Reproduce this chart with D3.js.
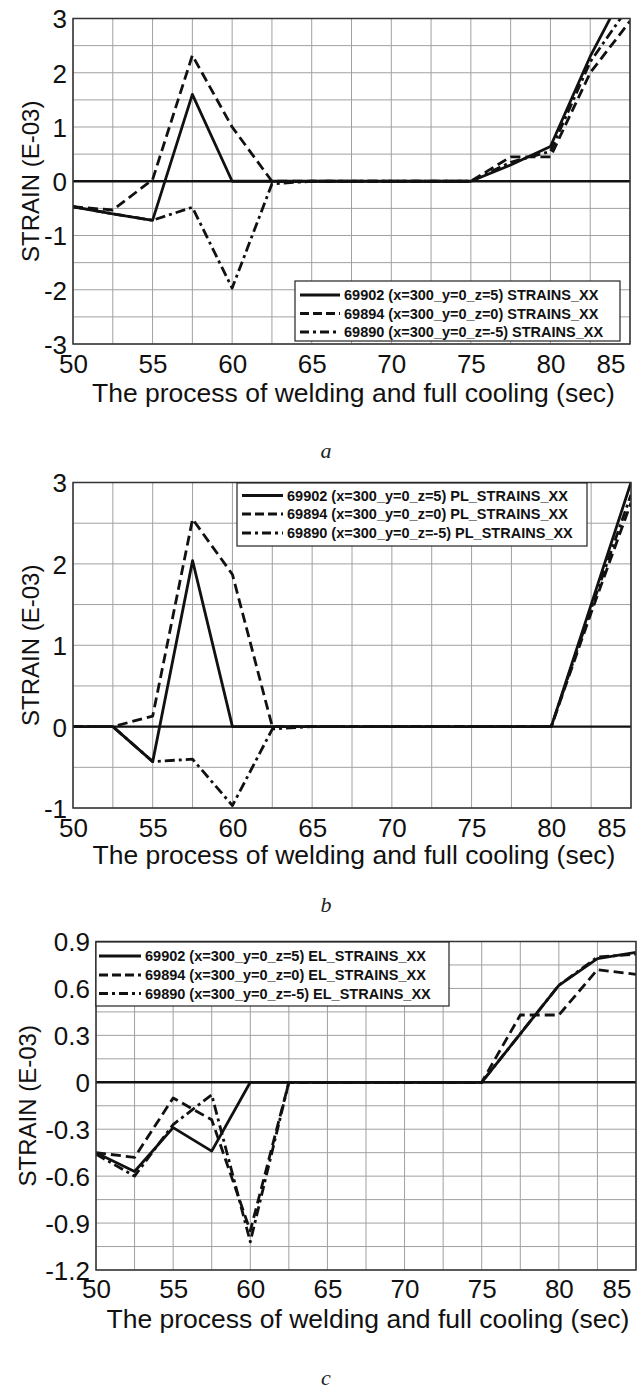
<!DOCTYPE html>
<html>
<head>
<meta charset="utf-8">
<script src="https://cdn.jsdelivr.net/npm/d3@7"></script>
<style>
  html, body { margin: 0; padding: 0; background: #fff; }
  svg { display: block; }
</style>
</head>
<body>
<script>
// ---------------- DATA ----------------
const times = [50, 52.5, 55, 57.5, 60, 62.5, 65, 67.5, 70, 72.5, 75, 77.5, 80, 82.5, 85];
const xTicks = [50, 55, 60, 65, 70, 75, 80, 85];

// Panel a: total strains
const a_69902 = [-0.47, -0.60, -0.72, 1.60, 0, 0, 0, 0, 0, 0, 0, 0.30, 0.64, 2.30, 3.70];
const a_69894 = [-0.47, -0.53, 0.03, 2.32, 1.00, 0, 0, 0, 0, 0, 0, 0.45, 0.45, 2.00, 2.95];
const a_69890 = [-0.47, -0.60, -0.72, -0.48, -1.97, -0.05, 0, 0, 0, 0, 0, 0.35, 0.55, 2.20, 3.25];
const yTicksA = [-3, -2, -1, 0, 1, 2, 3];
const legendA = ["69902 (x=300_y=0_z=5) STRAINS_XX", "69894 (x=300_y=0_z=0) STRAINS_XX", "69890 (x=300_y=0_z=-5) STRAINS_XX"];

// Panel b: plastic strains
const b_69902 = [0, 0, -0.43, 2.04, 0, 0, 0, 0, 0, 0, 0, 0, 0, 1.50, 3.00];
const b_69894 = [0, 0, 0.13, 2.55, 1.87, 0, 0, 0, 0, 0, 0, 0, 0, 1.40, 2.75];
const b_69890 = [0, 0, -0.43, -0.40, -0.97, -0.03, 0, 0, 0, 0, 0, 0, 0, 1.45, 2.85];
const yTicksB = [-1, 0, 1, 2, 3];
const legendB = ["69902 (x=300_y=0_z=5) PL_STRAINS_XX", "69894 (x=300_y=0_z=0) PL_STRAINS_XX", "69890 (x=300_y=0_z=-5) PL_STRAINS_XX"];

// Panel c: elastic strains
const c_69902 = [-0.45, -0.57, -0.29, -0.44, 0, 0, 0, 0, 0, 0, 0, 0.31, 0.62, 0.79, 0.83];
const c_69894 = [-0.45, -0.48, -0.10, -0.24, -0.95, 0, 0, 0, 0, 0, 0, 0.43, 0.43, 0.72, 0.69];
const c_69890 = [-0.46, -0.60, -0.27, -0.08, -1.02, 0, 0, 0, 0, 0, 0, 0.31, 0.62, 0.80, 0.82];
const yTicksC = [-1.2, -0.9, -0.6, -0.3, 0, 0.3, 0.6, 0.9];
const legendC = ["69902 (x=300_y=0_z=5) EL_STRAINS_XX", "69894 (x=300_y=0_z=0) EL_STRAINS_XX", "69890 (x=300_y=0_z=-5) EL_STRAINS_XX"];

const yLabel = "STRAIN (E-03)";
const xLabel = "The process of welding and full cooling (sec)";
const tags = ["a", "b", "c"];

// ---------------- LAYOUT ----------------
const dashStyles = [null, "10,5", "10,4,3,4"];
const legendDash = [null, "9,4", "9,4,3,4"];

const svg = d3.select("body").append("svg")
  .attr("width", 640).attr("height", 1393);
svg.append("rect").attr("width", 640).attr("height", 1393).attr("fill", "#fff");

const panels = [
  { box: {l: 73, r: 630, t: 18.5, b: 344}, yDomain: [-3, 3], yStep: 0.5, yTicks: yTicksA,
    series: [a_69902, a_69894, a_69890], legend: legendA,
    lg: {x: 295, y: 281, w: 325, h: 60, rows: [295, 313.5, 332], lx0: 300, lx1: 340},
    xLabY: 373, titleY: 402, yLabX: 39, tag: tags[0], tagY: 458 },
  { box: {l: 73, r: 631, t: 482.5, b: 808}, yDomain: [-1, 3], yStep: 0.5, yTicks: yTicksB,
    series: [b_69902, b_69894, b_69890], legend: legendB,
    lg: {x: 237, y: 483, w: 350, h: 63, rows: [495.5, 514, 533], lx0: 242, lx1: 283},
    xLabY: 837, titleY: 864, yLabX: 39, tag: tags[1], tagY: 912 },
  { box: {l: 96, r: 636, t: 941.5, b: 1270}, yDomain: [-1.2, 0.9], yStep: 0.15, yTicks: yTicksC,
    series: [c_69902, c_69894, c_69890], legend: legendC,
    lg: {x: 96, y: 942, w: 353, h: 64, rows: [956, 975, 993.5], lx0: 99, lx1: 141},
    xLabY: 1298, titleY: 1328, yLabX: 36, tag: tags[2], tagY: 1385 }
];

const fmt = v => v === 0 ? "0" : String(v);

panels.forEach((p, pi) => {
  const B = p.box;
  const x = d3.scaleLinear().domain([50, 85]).range([B.l, B.r]);
  const y = d3.scaleLinear().domain(p.yDomain).range([B.b, B.t]);
  const g = svg.append("g");

  // grid
  const xg = d3.range(50, 85.001, 2.5);
  const nY = Math.round((p.yDomain[1] - p.yDomain[0]) / p.yStep);
  const yg = d3.range(0, nY + 1).map(i => p.yDomain[0] + i * p.yStep);
  g.append("g").selectAll("line").data(xg).join("line")
    .attr("x1", d => x(d)).attr("x2", d => x(d))
    .attr("y1", B.t).attr("y2", B.b)
    .attr("stroke", "#a0a0a0").attr("stroke-width", 1);
  g.append("g").selectAll("line").data(yg).join("line")
    .attr("x1", B.l).attr("x2", B.r)
    .attr("y1", d => y(d)).attr("y2", d => y(d))
    .attr("stroke", "#a0a0a0").attr("stroke-width", 1);

  // zero line
  g.append("line").attr("x1", B.l).attr("x2", B.r)
    .attr("y1", y(0)).attr("y2", y(0))
    .attr("stroke", "#111").attr("stroke-width", 2.4);

  // clip
  const cid = "clip" + pi;
  svg.append("clipPath").attr("id", cid).append("rect")
    .attr("x", B.l).attr("y", B.t).attr("width", B.r - B.l).attr("height", B.b - B.t);

  const line = d3.line().x((d, i) => x(times[i])).y(d => y(d));
  const lg = g.append("g").attr("clip-path", `url(#${cid})`);
  p.series.forEach((s, si) => {
    lg.append("path").datum(s)
      .attr("d", line)
      .attr("fill", "none")
      .attr("stroke", "#111")
      .attr("stroke-width", 2.8)
      .attr("stroke-linejoin", "round")
      .attr("stroke-dasharray", dashStyles[si]);
  });

  // frame
  g.append("rect").attr("x", B.l).attr("y", B.t)
    .attr("width", B.r - B.l).attr("height", B.b - B.t)
    .attr("fill", "none").attr("stroke", "#333").attr("stroke-width", 1.5);

  // y tick labels
  const yAxis = d3.axisLeft(y).tickValues(p.yTicks).tickFormat(fmt).tickSize(0).tickPadding(6);
  const ya = g.append("g").attr("transform", `translate(${B.l},0)`).call(yAxis);
  ya.select(".domain").remove();
  ya.selectAll("text").attr("font-family", "Liberation Sans, Arial, sans-serif")
    .attr("font-size", 26).attr("fill", "#111").attr("dy", "0.36em");

  // x tick labels
  const xAxis = d3.axisBottom(x).tickValues(xTicks).tickFormat(d3.format("d")).tickSize(0).tickPadding(0);
  const xa = g.append("g").call(xAxis);
  xa.select(".domain").remove();
  xa.selectAll("text").attr("font-family", "Liberation Sans, Arial, sans-serif")
    .attr("font-size", 26).attr("fill", "#111")
    .attr("y", p.xLabY).attr("dy", 0)
    .attr("text-anchor", d => d === 85 ? "end" : "middle")
    .attr("dx", d => d === 85 ? -5 : 0);

  // axis titles
  g.append("text").attr("x", (B.l + B.r) / 2 + 2).attr("y", p.titleY)
    .attr("text-anchor", "middle")
    .attr("font-family", "Liberation Sans, Arial, sans-serif")
    .attr("font-size", 26.5).attr("fill", "#111").text(xLabel);
  g.append("text")
    .attr("transform", `translate(${p.yLabX},${(B.t + B.b) / 2}) rotate(-90)`)
    .attr("text-anchor", "middle")
    .attr("font-family", "Liberation Sans, Arial, sans-serif")
    .attr("font-size", 24).attr("fill", "#111").text(yLabel);

  // legend
  const L = p.lg;
  const leg = g.append("g");
  leg.append("rect").attr("x", L.x).attr("y", L.y).attr("width", L.w).attr("height", L.h)
    .attr("fill", "#fff").attr("stroke", "#222").attr("stroke-width", 1.2);
  p.legend.forEach((name, i) => {
    leg.append("line").attr("x1", L.lx0).attr("x2", L.lx1)
      .attr("y1", L.rows[i]).attr("y2", L.rows[i])
      .attr("stroke", "#111").attr("stroke-width", 3)
      .attr("stroke-dasharray", legendDash[i]);
    leg.append("text").attr("x", L.lx1 + 4).attr("y", L.rows[i]).attr("dy", "0.36em")
      .attr("font-family", "Liberation Sans, Arial, sans-serif")
      .attr("font-weight", "bold").attr("font-size", 14.5).attr("fill", "#111")
      .text(name);
  });

  // panel tag
  svg.append("text").attr("x", 326).attr("y", p.tagY).attr("text-anchor", "middle")
    .attr("font-family", "Liberation Serif, Times New Roman, serif")
    .attr("font-style", "italic").attr("font-size", 22).attr("fill", "#222")
    .text(p.tag);
});
</script>
</body>
</html>
